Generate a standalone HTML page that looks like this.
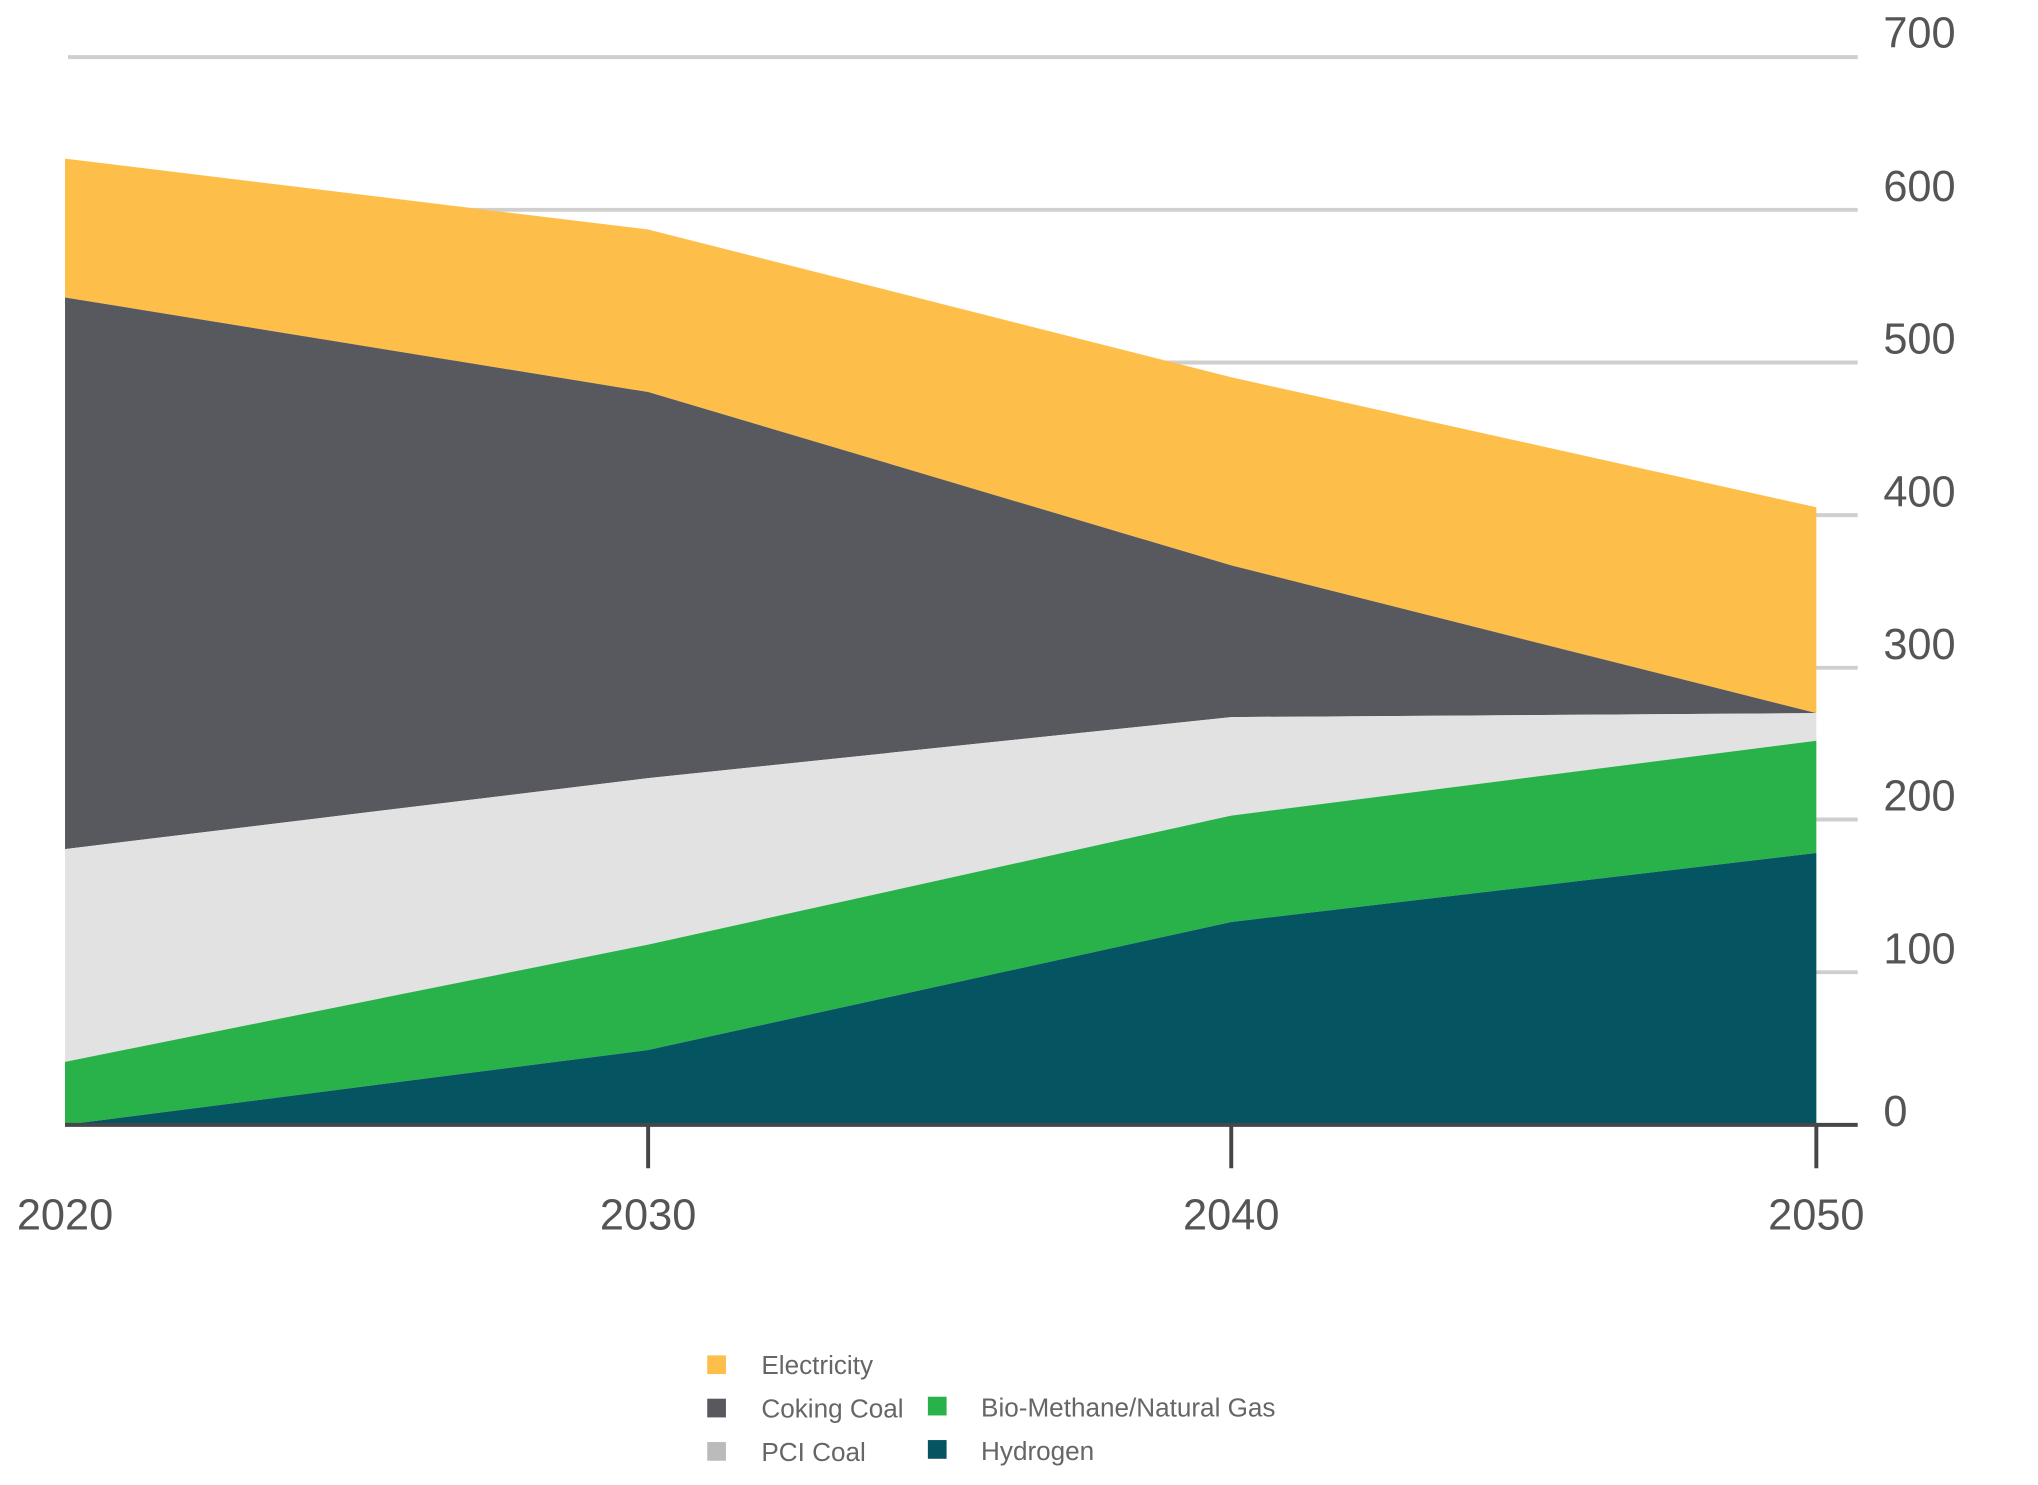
<!DOCTYPE html>
<html><head><meta charset="utf-8"><style>
html,body{margin:0;padding:0;background:#fff;}
svg{display:block;}
text{font-family:"Liberation Sans",sans-serif;}
</style></head><body>
<svg width="2038" height="1485" viewBox="0 0 2038 1485" xmlns="http://www.w3.org/2000/svg">
<g transform="scale(0.985)">
<g stroke="#cfcfcf" stroke-width="4">
<line x1="69" y1="58" x2="1886" y2="58"/>
<line x1="69" y1="213" x2="1886" y2="213"/>
<line x1="69" y1="368" x2="1886" y2="368"/>
<line x1="69" y1="523" x2="1886" y2="523"/>
<line x1="69" y1="678" x2="1886" y2="678"/>
<line x1="69" y1="832" x2="1886" y2="832"/>
<line x1="69" y1="987" x2="1886" y2="987"/>
</g>
<polygon fill="#FDBF4A" points="66,161 658,233 1250,383 1844,515 1844,724 1250,574 658,398 66,302"/>
<polygon fill="#58595E" points="66,302 658,398 1250,574 1844,724 1844,724 1250,728 658,790 66,862"/>
<polygon fill="#E2E2E2" points="66,862 658,790 1250,728 1844,724 1844,752 1250,828 658,959 66,1078"/>
<polygon fill="#29B24A" points="66,1078 658,959 1250,828 1844,752 1844,866 1250,936 658,1066 66,1142"/>
<polygon fill="#045462" points="66,1142 658,1066 1250,936 1844,866 1844,1142"/>
<line x1="66" y1="1142" x2="1886" y2="1142" stroke="#45464a" stroke-width="4"/>
<g stroke="#45464a" stroke-width="4">
<line x1="658" y1="1142" x2="658" y2="1186"/>
<line x1="1250" y1="1142" x2="1250" y2="1186"/>
<line x1="1844" y1="1142" x2="1844" y2="1186"/>
</g>
<g fill="#555" font-size="44" text-anchor="start">
<text x="1912" y="48">700</text>
<text x="1912" y="204">600</text>
<text x="1912" y="359">500</text>
<text x="1912" y="514">400</text>
<text x="1912" y="669">300</text>
<text x="1912" y="823">200</text>
<text x="1912" y="978">100</text>
<text x="1912" y="1143">0</text>
</g>
<g fill="#555" font-size="44" text-anchor="middle">
<text x="66" y="1248">2020</text>
<text x="658" y="1248">2030</text>
<text x="1250" y="1248">2040</text>
<text x="1844" y="1248">2050</text>
</g>
<g font-size="26.5" fill="#666">
<rect x="718" y="1376" width="19" height="19" fill="#FDBF4A"/>
<text x="773" y="1395">Electricity</text>
<rect x="718" y="1420" width="19" height="19" fill="#58595E"/>
<text x="773" y="1439">Coking Coal</text>
<rect x="718" y="1464" width="19" height="19" fill="#BBBBBB"/>
<text x="773" y="1483">PCI Coal</text>
<rect x="942" y="1418" width="19" height="19" fill="#29B24A"/>
<text x="996" y="1438">Bio-Methane/Natural Gas</text>
<rect x="942" y="1462" width="19" height="19" fill="#045462"/>
<text x="996" y="1482">Hydrogen</text>
</g>
</g>
</svg>
</body></html>
